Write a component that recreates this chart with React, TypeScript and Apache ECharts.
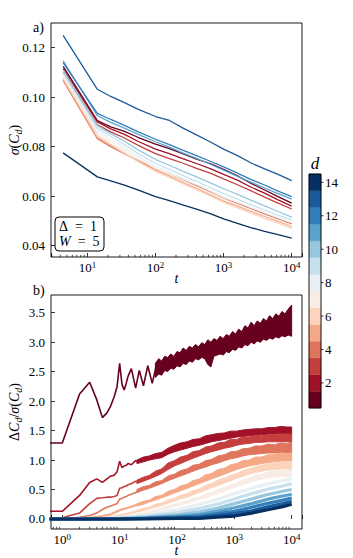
import { useEffect, useRef } from 'react';
import * as echarts from 'echarts';

const FONT = "'Liberation Serif', 'DejaVu Serif', serif";

// ---------- colour scale (d = 1..14) ----------
const dValues = [1, 2, 3, 4, 5, 6, 7, 8, 9, 10, 11, 12, 13, 14];
const colorbarTicks = [2, 4, 6, 8, 10, 12, 14];
const yTicksA = [0.04, 0.06, 0.08, 0.10, 0.12];
const yTicksB = [0, 0.5, 1.0, 1.5, 2.0, 2.5, 3.0, 3.5];

// ---------- panel a: sigma(C_d) vs t ----------
const tA = [4.4, 14, 22, 35, 55, 100, 160, 250, 400, 650, 1000, 1600, 2500, 4000, 6300, 10000];
const sigmaD1 = [0.1125, 0.0905, 0.0880, 0.0862, 0.0838, 0.0810, 0.0792, 0.0772, 0.0750, 0.0731, 0.0708, 0.0682, 0.0652, 0.0625, 0.0598, 0.0572];
const sigmaD2 = [0.1115, 0.0900, 0.0872, 0.0850, 0.0822, 0.0790, 0.0772, 0.0752, 0.0732, 0.0710, 0.0688, 0.0665, 0.0637, 0.0612, 0.0585, 0.0560];
const sigmaD3 = [0.1100, 0.0888, 0.0860, 0.0835, 0.0806, 0.0772, 0.0752, 0.0734, 0.0712, 0.0692, 0.0670, 0.0646, 0.0622, 0.0596, 0.0572, 0.0548];
const sigmaD4 = [0.1068, 0.0832, 0.0800, 0.0772, 0.0744, 0.0710, 0.0688, 0.0665, 0.0642, 0.0615, 0.0590, 0.0570, 0.0550, 0.0528, 0.0508, 0.0488];
const sigmaD5 = [0.1072, 0.0838, 0.0805, 0.0774, 0.0742, 0.0705, 0.0682, 0.0656, 0.0632, 0.0604, 0.0580, 0.0560, 0.0538, 0.0518, 0.0498, 0.0478];
const sigmaD6 = [0.1078, 0.0845, 0.0810, 0.0775, 0.0740, 0.0700, 0.0676, 0.0651, 0.0626, 0.0600, 0.0575, 0.0553, 0.0532, 0.0510, 0.0491, 0.0470];
const sigmaD7 = [0.1085, 0.0855, 0.0820, 0.0788, 0.0752, 0.0712, 0.0688, 0.0663, 0.0638, 0.0612, 0.0588, 0.0566, 0.0545, 0.0522, 0.0503, 0.0482];
const sigmaD8 = [0.1092, 0.0865, 0.0830, 0.0798, 0.0761, 0.0720, 0.0697, 0.0672, 0.0648, 0.0622, 0.0598, 0.0576, 0.0555, 0.0533, 0.0513, 0.0493];
const sigmaD9 = [0.1100, 0.0875, 0.0842, 0.0809, 0.0773, 0.0732, 0.0708, 0.0684, 0.0660, 0.0634, 0.0610, 0.0588, 0.0566, 0.0544, 0.0523, 0.0503];
const sigmaD10 = [0.1110, 0.0885, 0.0853, 0.0822, 0.0788, 0.0748, 0.0725, 0.0701, 0.0678, 0.0653, 0.0630, 0.0607, 0.0584, 0.0561, 0.0538, 0.0515];
const sigmaD11 = [0.1147, 0.0925, 0.0898, 0.0875, 0.0851, 0.0820, 0.0798, 0.0775, 0.0753, 0.0728, 0.0705, 0.0680, 0.0657, 0.0633, 0.0610, 0.0588];
const sigmaD12 = [0.1140, 0.0935, 0.0910, 0.0886, 0.0861, 0.0830, 0.0808, 0.0786, 0.0764, 0.0740, 0.0718, 0.0693, 0.0668, 0.0645, 0.0620, 0.0598];
const sigmaD13 = [0.1250, 0.1032, 0.1003, 0.0978, 0.0952, 0.0922, 0.0906, 0.0876, 0.0848, 0.0818, 0.0790, 0.0764, 0.0735, 0.0710, 0.0688, 0.0663];
const sigmaD14 = [0.0775, 0.0678, 0.0662, 0.0645, 0.0625, 0.0598, 0.0582, 0.0565, 0.0548, 0.0528, 0.0508, 0.0490, 0.0473, 0.0458, 0.0444, 0.0430];
const sigmaSeries = [sigmaD1, sigmaD2, sigmaD3, sigmaD4, sigmaD5, sigmaD6, sigmaD7, sigmaD8, sigmaD9, sigmaD10, sigmaD11, sigmaD12, sigmaD13, sigmaD14];

// ---------- panel b: Delta C_d / sigma(C_d) vs t ----------
// early (line) parts
const tEarlyD1 = [0.6, 1, 2, 3, 4, 5, 6, 7, 8, 9, 10, 11, 12, 13, 14, 16, 19, 22, 26, 31, 37, 44, 52];
const earlyD1 = [1.29, 1.29, 2.12, 2.32, 2.02, 1.72, 1.80, 1.92, 2.07, 2.24, 2.64, 2.28, 2.19, 2.30, 2.42, 2.55, 2.22, 2.52, 2.26, 2.60, 2.30, 2.62, 2.45];
const tEarlyRed = [0.6, 1, 2, 3, 4, 5, 6, 7, 8, 9, 10, 11, 12, 13, 14, 16, 19, 22];
const earlyD2 = [0.13, 0.13, 0.40, 0.62, 0.68, 0.62, 0.68, 0.73, 0.74, 0.80, 0.98, 0.87, 0.90, 0.91, 0.94, 0.92, 0.99, 0.97];
const earlyD3 = [0.02, 0.02, 0.10, 0.26, 0.35, 0.36, 0.37, 0.37, 0.38, 0.40, 0.52, 0.53, 0.55, 0.56, 0.58, 0.60, 0.64, 0.63];
const earlyD4 = [0.0, 0.0, 0.03, 0.06, 0.10, 0.16, 0.20, 0.22, 0.24, 0.26, 0.34, 0.35, 0.37, 0.38, 0.40, 0.42, 0.45, 0.47];
const tEarlyLight = [0.6, 1, 2, 3, 5, 7, 10, 14, 20];
const earlyD5 = [0, 0, 0.01, 0.02, 0.05, 0.08, 0.15, 0.19, 0.24];
const earlyD6 = [0, 0, 0, 0.01, 0.02, 0.03, 0.06, 0.09, 0.13];
const earlyD7 = [0, 0, 0, 0, 0.01, 0.02, 0.03, 0.05, 0.08];

// noisy (band) parts: upper and lower edge of each fluctuating trace
const tBandD1 = [42, 48, 54, 61, 69, 78, 88, 100, 113, 128, 145, 164, 186, 210, 238, 270, 305, 345, 390, 440, 500, 565, 640, 725, 820, 930, 1050, 1190, 1350, 1530, 1730, 1960, 2220, 2510, 2840, 3220, 3640, 4120, 4670, 5290, 5990, 6780, 7680, 8690, 10000];
const upperD1 = [2.64, 2.72, 2.68, 2.76, 2.74, 2.80, 2.76, 2.84, 2.82, 2.90, 2.86, 2.93, 2.90, 2.96, 2.92, 2.99, 2.96, 3.04, 3.00, 3.06, 3.03, 3.10, 3.06, 3.13, 3.10, 3.18, 3.14, 3.22, 3.18, 3.28, 3.24, 3.34, 3.28, 3.36, 3.32, 3.40, 3.36, 3.45, 3.40, 3.48, 3.44, 3.52, 3.48, 3.56, 3.63];
const lowerD1 = [2.40, 2.46, 2.44, 2.52, 2.50, 2.56, 2.54, 2.60, 2.58, 2.64, 2.62, 2.68, 2.66, 2.72, 2.70, 2.74, 2.72, 2.62, 2.58, 2.76, 2.78, 2.80, 2.78, 2.84, 2.82, 2.88, 2.86, 2.92, 2.90, 2.96, 2.94, 3.00, 2.97, 3.02, 3.00, 3.05, 3.03, 3.07, 3.05, 3.09, 3.07, 3.11, 3.09, 3.12, 3.10];
const tBand = [20, 26, 33, 42, 54, 70, 90, 115, 150, 190, 245, 315, 400, 520, 670, 860, 1100, 1400, 1800, 2350, 3000, 3900, 5000, 6400, 8200, 10000];
const upperD2 = [1.00, 1.05, 1.07, 1.11, 1.13, 1.20, 1.25, 1.29, 1.31, 1.35, 1.36, 1.41, 1.43, 1.45, 1.46, 1.49, 1.49, 1.51, 1.52, 1.53, 1.53, 1.55, 1.55, 1.57, 1.56, 1.56];
const lowerD2 = [0.94, 0.97, 1.00, 1.02, 1.04, 1.10, 1.14, 1.17, 1.20, 1.23, 1.25, 1.28, 1.31, 1.33, 1.35, 1.37, 1.39, 1.40, 1.41, 1.42, 1.43, 1.44, 1.44, 1.45, 1.45, 1.44];
const upperD3 = [0.66, 0.71, 0.74, 0.81, 0.85, 0.95, 0.99, 1.05, 1.08, 1.14, 1.16, 1.22, 1.24, 1.29, 1.30, 1.35, 1.35, 1.39, 1.39, 1.42, 1.41, 1.43, 1.43, 1.44, 1.44, 1.44];
const lowerD3 = [0.60, 0.64, 0.68, 0.72, 0.77, 0.84, 0.90, 0.94, 0.99, 1.03, 1.07, 1.11, 1.14, 1.17, 1.20, 1.22, 1.25, 1.27, 1.28, 1.30, 1.30, 1.31, 1.31, 1.31, 1.31, 1.30];
const upperD4 = [0.50, 0.55, 0.57, 0.63, 0.65, 0.73, 0.76, 0.82, 0.85, 0.91, 0.93, 0.99, 1.01, 1.07, 1.09, 1.14, 1.15, 1.19, 1.20, 1.24, 1.24, 1.27, 1.26, 1.29, 1.28, 1.28];
const lowerD4 = [0.45, 0.49, 0.52, 0.56, 0.60, 0.65, 0.69, 0.73, 0.77, 0.81, 0.85, 0.88, 0.92, 0.95, 0.99, 1.02, 1.04, 1.07, 1.09, 1.10, 1.11, 1.12, 1.12, 1.13, 1.13, 1.12];
const upperD5 = [0.26, 0.30, 0.32, 0.38, 0.40, 0.47, 0.50, 0.56, 0.59, 0.65, 0.68, 0.75, 0.77, 0.84, 0.86, 0.92, 0.94, 0.99, 1.00, 1.05, 1.05, 1.09, 1.09, 1.12, 1.11, 1.12];
const lowerD5 = [0.22, 0.25, 0.29, 0.32, 0.36, 0.40, 0.44, 0.48, 0.52, 0.56, 0.60, 0.64, 0.68, 0.72, 0.76, 0.80, 0.84, 0.87, 0.90, 0.92, 0.94, 0.96, 0.97, 0.98, 0.98, 0.98];
const upperD6 = [0.15, 0.18, 0.20, 0.25, 0.27, 0.32, 0.35, 0.40, 0.43, 0.48, 0.51, 0.57, 0.60, 0.66, 0.69, 0.74, 0.77, 0.82, 0.85, 0.89, 0.91, 0.94, 0.95, 0.97, 0.97, 0.98];
const lowerD6 = [0.12, 0.14, 0.17, 0.20, 0.23, 0.27, 0.30, 0.34, 0.37, 0.41, 0.45, 0.49, 0.53, 0.57, 0.61, 0.65, 0.69, 0.72, 0.76, 0.79, 0.81, 0.83, 0.84, 0.85, 0.85, 0.84];
const upperD7 = [0.09, 0.11, 0.13, 0.16, 0.19, 0.22, 0.25, 0.29, 0.31, 0.35, 0.37, 0.42, 0.45, 0.50, 0.53, 0.58, 0.61, 0.66, 0.69, 0.74, 0.76, 0.80, 0.81, 0.83, 0.83, 0.84];
const lowerD7 = [0.07, 0.09, 0.11, 0.13, 0.16, 0.18, 0.21, 0.24, 0.27, 0.30, 0.33, 0.36, 0.40, 0.43, 0.47, 0.51, 0.55, 0.58, 0.62, 0.65, 0.68, 0.70, 0.71, 0.72, 0.72, 0.72];

// smooth traces (d = 8..14)
const tB3 = [0.6, 1, 3, 10, 30, 100, 250, 500, 1000, 2000, 4000, 7000, 10000];
const ratioD8 = [0, 0, 0, 0.02, 0.07, 0.16, 0.25, 0.33, 0.43, 0.52, 0.60, 0.65, 0.68];
const ratioD9 = [0, 0, 0, 0.01, 0.05, 0.11, 0.18, 0.25, 0.34, 0.43, 0.51, 0.56, 0.60];
const ratioD10 = [0, 0, 0, 0.01, 0.03, 0.07, 0.12, 0.18, 0.26, 0.34, 0.42, 0.47, 0.50];
const ratioD11 = [0, 0, 0, 0, 0.02, 0.05, 0.08, 0.13, 0.19, 0.26, 0.34, 0.39, 0.42];
const ratioD12 = [0, 0, 0, 0, 0.01, 0.03, 0.05, 0.09, 0.13, 0.20, 0.27, 0.32, 0.355];
const ratioD13 = [0, 0, 0, 0, 0.01, 0.02, 0.03, 0.06, 0.09, 0.14, 0.21, 0.26, 0.30];
const ratioD14 = [0, 0, 0, 0, 0, 0.01, 0.01, 0.03, 0.05, 0.10, 0.16, 0.21, 0.25];

const redTraces = [
  { d: 1, tE: tEarlyD1, vE: earlyD1, tBd: tBandD1, up: upperD1, lo: lowerD1 },
  { d: 2, tE: tEarlyRed, vE: earlyD2, tBd: tBand, up: upperD2, lo: lowerD2 },
  { d: 3, tE: tEarlyRed, vE: earlyD3, tBd: tBand, up: upperD3, lo: lowerD3 },
  { d: 4, tE: tEarlyRed, vE: earlyD4, tBd: tBand, up: upperD4, lo: lowerD4 },
  { d: 5, tE: tEarlyLight, vE: earlyD5, tBd: tBand, up: upperD5, lo: lowerD5 },
  { d: 6, tE: tEarlyLight, vE: earlyD6, tBd: tBand, up: upperD6, lo: lowerD6 },
  { d: 7, tE: tEarlyLight, vE: earlyD7, tBd: tBand, up: upperD7, lo: lowerD7 },
];
const blueTraces = [ratioD8, ratioD9, ratioD10, ratioD11, ratioD12, ratioD13, ratioD14];

// minor tick positions of the log axes
const minorTicksA = [3, 4, 5, 6, 7, 8, 9, 20, 30, 40, 50, 60, 70, 80, 90, 200, 300, 400, 500, 600, 700, 800, 900, 2000, 3000, 4000, 5000, 6000, 7000, 8000, 9000];
const minorTicksB = [0.7, 0.8, 0.9, 2, 3, 4, 5, 6, 7, 8, 9, 20, 30, 40, 50, 60, 70, 80, 90, 200, 300, 400, 500, 600, 700, 800, 900, 2000, 3000, 4000, 5000, 6000, 7000, 8000, 9000];

// ---------- RdBu colormap ----------
const RDBU = [[103, 0, 31], [178, 24, 43], [214, 96, 77], [244, 165, 130], [253, 219, 199], [247, 247, 247], [209, 229, 240], [146, 197, 222], [67, 147, 195], [33, 102, 172], [5, 48, 97]];
function rdbu(x: number) {
  const s = Math.max(0, Math.min(1, x)) * 10;
  const i = Math.min(9, Math.floor(s));
  const f = s - i;
  const a = RDBU[i], b = RDBU[i + 1];
  const c = a.map((v, k) => Math.round(v + (b[k] - v) * f));
  return `rgb(${c[0]},${c[1]},${c[2]})`;
}
const colorOf = (d: number) => rdbu((d - 1) / 13);

const isPow10 = (v: number) => { const l = Math.log10(v); return Math.abs(l - Math.round(l)) < 1e-6; };

const tickLabelStyle = { color: '#000', fontFamily: FONT, fontSize: 13 };
const powRich = {
  b: { fontFamily: FONT, fontSize: 13, color: '#000', lineHeight: 14 },
  sup: { fontFamily: FONT, fontSize: 9, color: '#000', lineHeight: 5, verticalAlign: 'top' },
};
const nameRich = {
  n: { fontFamily: FONT, fontSize: 14, color: '#000', lineHeight: 18 },
  i: { fontFamily: FONT, fontSize: 14, color: '#000', fontStyle: 'italic', lineHeight: 18 },
  sub: { fontFamily: FONT, fontSize: 10, color: '#000', fontStyle: 'italic', lineHeight: 12, verticalAlign: 'bottom' },
};

function logXAxis(gridIndex: number, min: number, max: number) {
  return {
    type: 'log', logBase: 10, gridIndex, min, max,
    axisLine: { show: false },
    axisTick: { show: true, inside: true, length: 4, lineStyle: { color: '#000', width: 0.8 } },
    splitLine: { show: false },
    axisLabel: {
      ...tickLabelStyle, margin: 3,
      formatter: (v: number) => (isPow10(v) ? `{b|10}{sup|${Math.round(Math.log10(v))}}` : ''),
      rich: powRich,
    },
    name: 't', nameLocation: 'middle', nameGap: 17, nameMoveOverlap: false,
    nameTextStyle: { fontFamily: FONT, fontStyle: 'italic', fontSize: 14, lineHeight: 9, color: '#000' },
  };
}

function linYAxis(gridIndex: number, min: number, max: number, ticks: number[], digits: number, name: string) {
  return {
    type: 'value', gridIndex, min, max,
    axisLine: { show: false }, splitLine: { show: false },
    axisTick: { show: true, inside: true, length: 4, customValues: ticks, lineStyle: { color: '#000', width: 0.8 } },
    axisLabel: { ...tickLabelStyle, margin: 6, customValues: ticks, formatter: (v: number) => Number(v).toFixed(digits) },
    name, nameLocation: 'middle', nameRotate: 90, nameGap: 28, nameMoveOverlap: false,
    nameTextStyle: { rich: nameRich },
  };
}

function minorTickSeries(axisIndex: number, ticks: number[], yRef: number) {
  return {
    type: 'custom', xAxisIndex: axisIndex, yAxisIndex: axisIndex, silent: true, z: 10,
    data: ticks.map((t) => [t, yRef]),
    renderItem: (params: any, api: any) => {
      const p = api.coord([api.value(0), api.value(1)]);
      const cs = params.coordSys;
      const yb = cs.y + cs.height;
      return { type: 'line', shape: { x1: p[0], y1: yb, x2: p[0], y2: yb - 2.2 }, style: { stroke: '#000', lineWidth: 0.7 } };
    },
  };
}

export default function App() {
  const ref = useRef<HTMLDivElement>(null);
  useEffect(() => {
    if (!ref.current) return;
    const chart = echarts.init(ref.current, null, { renderer: 'svg' });

    const series: any[] = [];
    sigmaSeries.forEach((vals, k) => {
      series.push({
        type: 'line', xAxisIndex: 0, yAxisIndex: 0, showSymbol: false, symbol: 'none',
        data: tA.map((t, i) => [t, vals[i]]),
        lineStyle: { color: colorOf(k + 1), width: 1.3 },
      });
    });
    redTraces.forEach((tr) => {
      const c = colorOf(tr.d);
      series.push({
        type: 'line', xAxisIndex: 1, yAxisIndex: 1, showSymbol: false, symbol: 'none',
        data: tr.tE.map((t, i) => [t, tr.vE[i]]),
        lineStyle: { color: c, width: tr.d <= 4 ? 1.6 : 2.2, join: 'bevel' },
      });
      series.push({
        type: 'custom', xAxisIndex: 1, yAxisIndex: 1, silent: true,
        data: [[tr.tBd[0], tr.lo[0]]],
        renderItem: (params: any, api: any) => {
          const pts: number[][] = [];
          tr.tBd.forEach((t, i) => pts.push(api.coord([t, tr.up[i]])));
          for (let i = tr.tBd.length - 1; i >= 0; i--) pts.push(api.coord([tr.tBd[i], tr.lo[i]]));
          return { type: 'polygon', shape: { points: pts }, style: { fill: c, stroke: c, lineWidth: 1 } };
        },
      });
    });
    blueTraces.forEach((vals, k) => {
      series.push({
        type: 'line', xAxisIndex: 1, yAxisIndex: 1, showSymbol: false, symbol: 'none',
        data: tB3.map((t, i) => [t, vals[i]]),
        lineStyle: { color: colorOf(k + 8), width: 3.2 },
      });
    });
    series.push(minorTickSeries(0, minorTicksA, 0.05));
    series.push(minorTickSeries(1, minorTicksB, 1));
    // colorbar blocks
    series.push({
      type: 'custom', xAxisIndex: 2, yAxisIndex: 2, silent: true,
      data: dValues.map((d) => [0.5, d]),
      renderItem: (params: any, api: any) => {
        const d = api.value(1);
        const top = api.coord([0, d + 0.5]);
        const bot = api.coord([0, d - 0.5]);
        const cs = params.coordSys;
        return {
          type: 'rect',
          shape: { x: cs.x, y: top[1], width: cs.width, height: bot[1] - top[1] },
          style: { fill: colorOf(d), stroke: colorOf(d), lineWidth: 0.4 },
        };
      },
    });
    // colorbar ticks
    series.push({
      type: 'custom', xAxisIndex: 2, yAxisIndex: 2, silent: true, z: 10,
      data: colorbarTicks.map((v) => [1, v]),
      renderItem: (params: any, api: any) => {
        const p = api.coord([1, api.value(1)]);
        const cs = params.coordSys;
        const x = cs.x + cs.width;
        return { type: 'line', shape: { x1: x, y1: p[1], x2: x + 2.5, y2: p[1] }, style: { stroke: '#000', lineWidth: 0.8 } };
      },
    });

    const gridBase = { show: true, borderColor: '#000', borderWidth: 0.9, backgroundColor: 'transparent', containLabel: false, outerBoundsMode: 'none' };

    chart.setOption({
      animation: false,
      backgroundColor: '#fff',
      grid: [
        { ...gridBase, left: 51, top: 23, width: 251, height: 234 },
        { ...gridBase, left: 51, top: 295, width: 251, height: 234 },
        { ...gridBase, left: 309, top: 174, width: 12, height: 234, z: 20 },
      ],
      xAxis: [
        logXAxis(0, 2.92, 14160),
        logXAxis(1, 0.635, 15140),
        { type: 'value', gridIndex: 2, min: 0, max: 1, show: false },
      ],
      yAxis: [
        linYAxis(0, 0.0354, 0.13, yTicksA, 2, '{i|σ}{n|(}{i|C}{sub|d}{n|)}'),
        linYAxis(1, -0.17, 3.8, yTicksB, 1, '{n|Δ}{i|C}{sub|d}{n|/}{i|σ}{n|(}{i|C}{sub|d}{n|)}'),
        {
          type: 'value', gridIndex: 2, min: 0.5, max: 14.5, position: 'right',
          axisLine: { show: false }, splitLine: { show: false }, axisTick: { show: false },
          axisLabel: { ...tickLabelStyle, margin: 4, customValues: colorbarTicks, formatter: (v: number) => String(v) },
        },
      ],
      graphic: [
        { type: 'text', x: 33, y: 27, style: { text: 'a)', fontFamily: FONT, fontSize: 14, fill: '#000', verticalAlign: 'middle' } },
        { type: 'text', x: 33, y: 290, style: { text: 'b)', fontFamily: FONT, fontSize: 14, fill: '#000', verticalAlign: 'middle' } },
        { type: 'text', x: 315, y: 163, style: { text: 'd', fontFamily: FONT, fontStyle: 'italic', fontSize: 17, fill: '#000', align: 'center', verticalAlign: 'middle' } },
        { type: 'rect', z: 30, shape: { x: 55, y: 217, width: 49, height: 34, r: 4 }, style: { fill: '#fff', stroke: '#000', lineWidth: 1 } },
        {
          type: 'text', z: 31, x: 59, y: 226,
          style: { text: 'Δ\u2002=\u20021', fontFamily: FONT, fontSize: 14, fill: '#000', verticalAlign: 'middle' },
        },
        {
          type: 'text', z: 31, x: 59, y: 241,
          style: {
            text: '{i|W}{n|\u2002=\u20025}', verticalAlign: 'middle',
            rich: {
              i: { fontFamily: FONT, fontSize: 14, fontStyle: 'italic', fill: '#000' },
              n: { fontFamily: FONT, fontSize: 14, fill: '#000' },
            },
          },
        },
      ],
      series,
    });
    return () => chart.dispose();
  }, []);
  return <div ref={ref} style={{ position: 'fixed', left: 0, top: 0, width: 353, height: 558, background: '#fff' }} />;
}
